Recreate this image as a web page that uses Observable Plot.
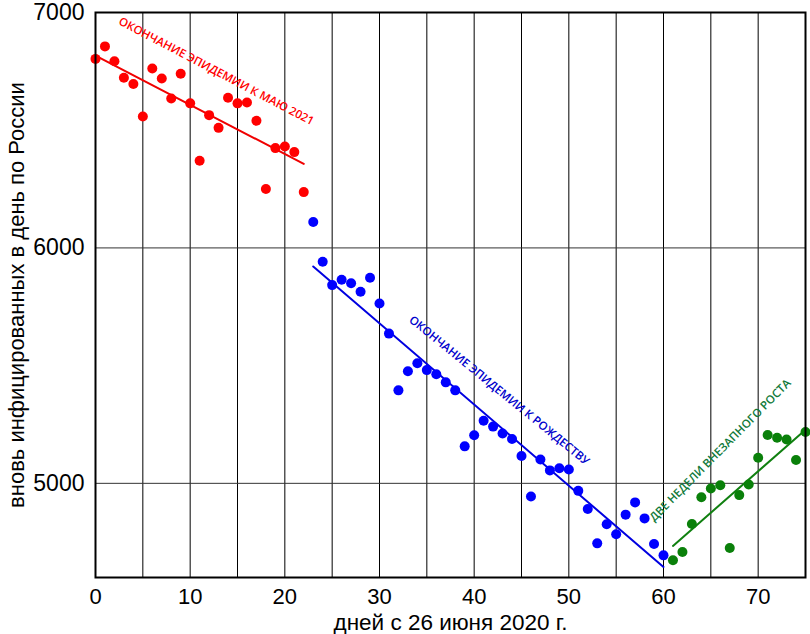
<!DOCTYPE html>
<html>
<head>
<meta charset="utf-8">
<script src="https://cdn.jsdelivr.net/npm/d3@7"></script>
<script src="https://cdn.jsdelivr.net/npm/@observablehq/plot@0.6"></script>
<style>
  html, body { margin: 0; padding: 0; background: #fff; }
  #chart { width: 810px; height: 634px; }
</style>
</head>
<body>
<div id="chart"></div>
<script>
// Daily new infections
const redDays = [0,1,2,3,4,5,6,7,8,9,10,11,12,13,14,15,16,17,18,19,20,21,22];
const redValues = [6803,6856,6793,6723,6696,6558,6762,6720,6635,6740,6614,6370,6564,6510,6638,6614,6618,6540,6250,6424,6431,6407,6237];

const blueDays = [23,24,25,26,27,28,29,30,31,32,33,34,35,36,37,38,39,40,41,42,43,44,45,46,47,48,49,50,51,52,53,54,55,56,57,58,59,60];
const blueValues = [6110,5941,5842,5865,5850,5814,5873,5764,5636,5395,5476,5510,5481,5463,5429,5395,5157,5204,5266,5241,5212,5188,5116,4944,5101,5055,5064,5059,4968,4891,4745,4826,4784,4867,4919,4851,4742,4694];

const greenDays = [61,62,63,64,65,66,67,68,69,70,71,72,73,74,75];
const greenValues = [4673,4708,4827,4941,4978,4992,4725,4950,4995,5109,5205,5194,5186,5099,5218];

// Trend lines (endpoints)
const redTrendDays = [0, 22];
const redTrendValues = [6817, 6357];
const blueTrendDays = [23, 60];
const blueTrendValues = [5921, 4645];
const greenTrendDays = [61, 75];
const greenTrendValues = [4734, 5228];

// Annotations
const noteTexts = ["ОКОНЧАНИЕ ЭПИДЕМИИ К МАЮ 2021", "ОКОНЧАНИЕ ЭПИДЕМИИ К РОЖДЕСТВУ", "ДВЕ НЕДЕЛИ ВНЕЗАПНОГО РОСТА"];
const noteDays = [12.76, 42.65, 66.0];
const noteValues = [6750, 5394, 5140];

// Axis ticks and labels
const xTicks = [0,10,20,30,40,50,60,70];
const xGrid = [0,5,10,15,20,25,30,35,40,45,50,55,60,65,70,75];
const yTicks = [5000,6000,7000];
const xTitle = "дней с 26 июня 2020 г.";
const yTitle = "вновь инфицированных в день по России";

const pts = (days, vals) => days.map((d, i) => ({x: d, y: vals[i]}));
const red = pts(redDays, redValues);
const blue = pts(blueDays, blueValues);
const green = pts(greenDays, greenValues);
const redT = pts(redTrendDays, redTrendValues);
const blueT = pts(blueTrendDays, blueTrendValues);
const greenT = pts(greenTrendDays, greenTrendValues);
const notes = noteTexts.map((t, i) => ({text: t, x: noteDays[i], y: noteValues[i]}));

const noteStyle = {x: "x", y: "y", text: "text", fontSize: 11.5, fontWeight: 600, fontFamily: "'Open Sans', sans-serif"};

const chart = Plot.plot({
  width: 810,
  height: 634,
  marginLeft: 95,
  marginRight: 5,
  marginTop: 12,
  marginBottom: 57,
  style: {fontFamily: "'Liberation Sans', Arial, sans-serif", fontSize: "22px", background: "#fff", color: "#000"},
  x: {domain: [0, 75]},
  y: {domain: [4600, 7000]},
  marks: [
    Plot.gridX(xGrid, {stroke: "#000", strokeOpacity: 1, strokeWidth: 1}),
    Plot.gridY(yTicks, {stroke: "#333", strokeOpacity: 1, strokeWidth: 1}),
    Plot.axisX(xTicks, {tickSize: 0, tickPadding: 11, fontSize: 22, tickFormat: d => String(d), label: null}),
    Plot.axisX({ticks: [], label: xTitle, labelAnchor: "center", labelArrow: "none", labelOffset: 52, fontSize: 22.5}),
    Plot.axisY(yTicks, {tickSize: 0, tickPadding: 11, fontSize: 23, tickFormat: d => String(d), label: null}),
    Plot.axisY({ticks: [], label: yTitle, labelAnchor: "center", labelArrow: "none", labelOffset: 87, fontSize: 22}),
    Plot.line(redT, {x: "x", y: "y", stroke: "#f00000", strokeWidth: 2}),
    Plot.line(blueT, {x: "x", y: "y", stroke: "#0000e0", strokeWidth: 2}),
    Plot.line(greenT, {x: "x", y: "y", stroke: "#108010", strokeWidth: 2}),
    Plot.dot(red, {x: "x", y: "y", r: 5, fill: "#ff0000"}),
    Plot.dot(blue, {x: "x", y: "y", r: 5, fill: "#0000ff"}),
    Plot.dot(green, {x: "x", y: "y", r: 5, fill: "#0a800a"}),
    Plot.text([notes[0]], {...noteStyle, rotate: 27.7, fill: "#ff0000"}),
    Plot.text([notes[1]], {...noteStyle, rotate: 39.2, fill: "#0000cc"}),
    Plot.text([notes[2]], {...noteStyle, rotate: -45.2, fill: "#117a3a"}),
    Plot.frame({stroke: "#000", strokeWidth: 2})
  ]
});
document.getElementById("chart").appendChild(chart);
</script>
</body>
</html>
